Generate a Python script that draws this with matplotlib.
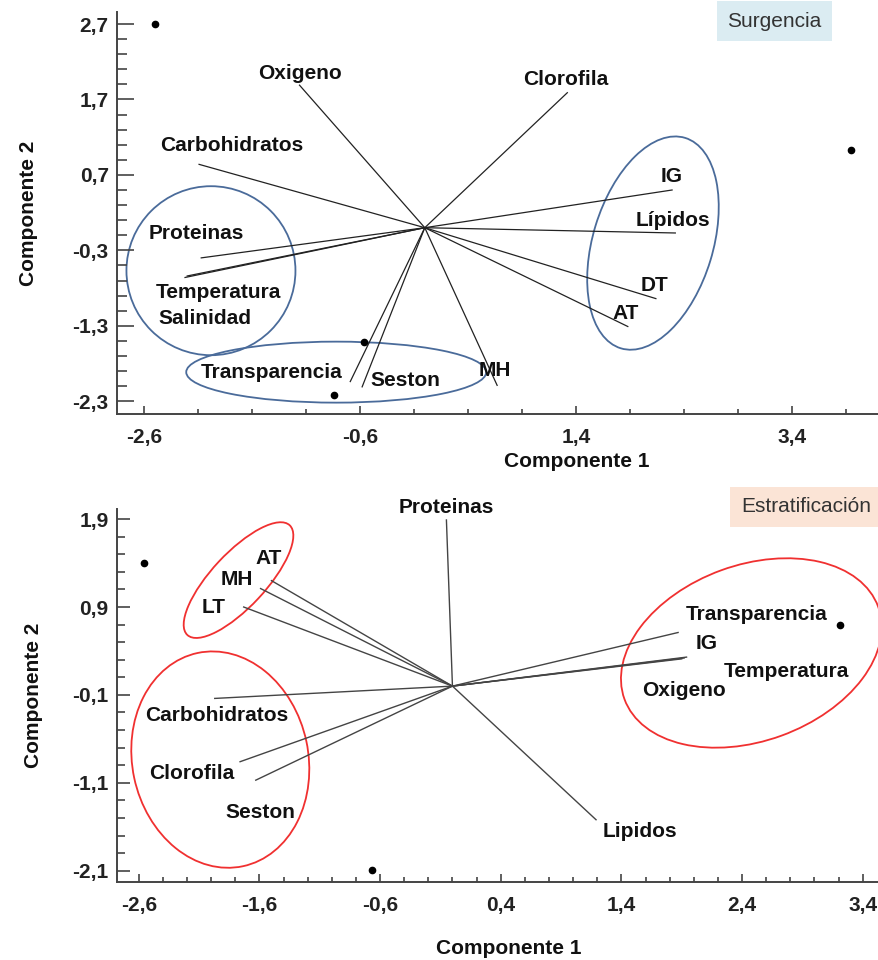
import numpy as np
import matplotlib
matplotlib.use("Agg")
import matplotlib.pyplot as plt
from matplotlib.patches import Ellipse
from matplotlib.transforms import ScaledTranslation

plt.rcParams['font.family'] = ['Liberation Sans', 'DejaVu Sans']

# ---- Surgencia (top) ----
top_vars = ["Oxigeno", "Clorofila", "Carbohidratos", "Proteinas", "Temperatura", "Salinidad",
            "Transparencia", "Seston", "MH", "IG", "Lípidos", "DT", "AT"]
top_vx = [-1.16, 1.32, -2.09, -2.07, -2.22, -2.20, -0.69, -0.58, 0.67, 2.29, 2.32, 2.14, 1.88]
top_vy = [1.89, 1.79, 0.84, -0.40, -0.66, -0.64, -2.04, -2.11, -2.09, 0.50, -0.07, -0.94, -1.31]
top_lx = [-1.16, 1.31, -1.79, -2.12, -1.91, -2.04, -1.42, -0.18, 0.65, 2.29, 2.30, 2.13, 1.86]
top_ly = [2.04, 1.97, 1.09, -0.08, -0.86, -1.21, -1.92, -2.02, -1.89, 0.68, 0.10, -0.76, -1.14]
top_px = [-2.50, 3.95, -0.56, -0.84]
top_py = [2.70, 1.03, -1.52, -2.22]
top_xticks = [-2.6, -0.6, 1.4, 3.4]
top_yticks = [2.7, 1.7, 0.7, -0.3, -1.3, -2.3]

# ---- Estratificacion (bottom) ----
bot_vars = ["Proteinas", "AT", "MH", "LT", "Carbohidratos", "Clorofila", "Seston",
            "Transparencia", "IG", "Temperatura", "Oxigeno", "Lipidos"]
bot_vx = [-0.05, -1.50, -1.59, -1.73, -1.97, -1.76, -1.63, 1.87, 1.94, 1.92, 1.90, 1.19]
bot_vy = [1.89, 1.20, 1.11, 0.90, -0.14, -0.86, -1.07, 0.61, 0.33, 0.32, 0.31, -1.52]
bot_lx = [-0.05, -1.52, -1.79, -1.98, -1.95, -2.16, -1.59, 2.52, 2.11, 2.77, 1.92, 1.55]
bot_ly = [2.03, 1.45, 1.21, 0.90, -0.33, -0.99, -1.44, 0.81, 0.48, 0.17, -0.05, -1.65]
bot_px = [-2.56, -0.67, 3.21]
bot_py = [1.40, -2.09, 0.69]
bot_xticks = [-2.6, -1.6, -0.6, 0.4, 1.4, 2.4, 3.4]
bot_yticks = [1.9, 0.9, -0.1, -1.1, -2.1]

DPI = 100
fig = plt.figure(figsize=(8.79, 9.6), dpi=DPI)


def ring(ax, cx, cy, w, h, ang, color):
    # ellipse sized in pixels, centred on a data point
    tr = fig.dpi_scale_trans + ScaledTranslation(cx, cy, ax.transData)
    ax.add_patch(Ellipse((0, 0), w / DPI, h / DPI, angle=ang, transform=tr,
                         fill=False, ec=color, lw=1.3, clip_on=False))


def style_axes(ax, xt, yt, xminor, yminor, ylen):
    for s in ['top', 'right']:
        ax.spines[s].set_visible(False)
    for s in ['left', 'bottom']:
        ax.spines[s].set_color('#444444')
        ax.spines[s].set_linewidth(1.4)
    ax.set_xticks(xt)
    ax.set_xticklabels([f"{t:.1f}".replace('.', ',') for t in xt])
    ax.set_yticks(yt)
    ax.set_yticklabels([f"{t:.1f}".replace('.', ',') for t in yt])
    ax.set_xticks(xminor, minor=True)
    ax.set_yticks(yminor, minor=True)
    ax.tick_params(axis='x', which='major', direction='in', length=6, width=1.2, color='#444444',
                   labelsize=15, pad=10)
    ax.tick_params(axis='x', which='minor', direction='in', length=3.6, width=1.2, color='#444444')
    ax.tick_params(axis='y', which='major', direction='in', length=ylen, width=1.2, color='#444444',
                   labelsize=15, pad=6)
    ax.tick_params(axis='y', which='minor', direction='in', length=ylen * 0.58, width=1.2,
                   color='#444444')
    for lab in ax.get_xticklabels() + ax.get_yticklabels():
        lab.set_fontweight('bold')
        lab.set_color('#222222')


# ---------- top panel ----------
ax1 = fig.add_axes([0.1331, 0.56875, 0.8669, 0.41875])
ax1.set_xlim(-2.85, 4.206)
ax1.set_ylim(-2.47, 2.86)
style_axes(ax1, top_xticks, top_yticks, np.arange(-2.6, 4.0, 0.5), np.arange(-2.3, 2.8, 0.2), 12)

for vx, vy in zip(top_vx, top_vy):
    ax1.plot([0, vx], [0, vy], color='#222222', lw=0.9)
for name, lx, ly in zip(top_vars, top_lx, top_ly):
    ax1.text(lx, ly, name, ha='center', va='center', fontsize=15, fontweight='bold', color='#111111')
ax1.plot(top_px, top_py, 'o', color='black', ms=4.5, clip_on=False)

ring(ax1, -1.98, -0.57, 169, 169, 0, '#4a6b9a')
ring(ax1, -0.82, -1.915, 300, 61, 0, '#4a6b9a')
ring(ax1, 2.113, -0.204, 220, 120, 73, '#4a6b9a')

ax1.text(0.863, 0.9766, "Surgencia", transform=ax1.transAxes, ha='center', va='center',
         fontsize=15, color='#333333',
         bbox=dict(boxstyle='square,pad=0.5', fc='#dbecf2', ec='none'))
ax1.text(0.603, -0.118, "Componente 1", transform=ax1.transAxes, ha='center', va='center',
         fontsize=15, fontweight='bold', color='#111111')
ax1.text(-0.116, 0.5, "Componente 2", transform=ax1.transAxes, ha='center', va='center',
         rotation=90, fontsize=15, fontweight='bold', color='#111111')

# ---------- bottom panel ----------
ax2 = fig.add_axes([0.1331, 0.08156, 0.8669, 0.38824])
ax2.set_xlim(-2.78, 3.535)
ax2.set_ylim(-2.225, 2.015)
style_axes(ax2, bot_xticks, bot_yticks, np.arange(-2.6, 3.5, 0.2), np.arange(-2.1, 2.0, 0.2), 9.4)

for vx, vy in zip(bot_vx, bot_vy):
    ax2.plot([0, vx], [0, vy], color='#444444', lw=1.0)
for name, lx, ly in zip(bot_vars, bot_lx, bot_ly):
    ax2.text(lx, ly, name, ha='center', va='center', fontsize=15, fontweight='bold',
             color='#111111', clip_on=False)
ax2.plot(bot_px, bot_py, 'o', color='black', ms=4.5, clip_on=False)

ring(ax2, -1.773, 1.206, 150, 54, 47, '#f03030')
ring(ax2, -1.924, -0.836, 218, 176, 102, '#f03030')
ring(ax2, 2.477, 0.377, 270, 176, 20, '#f03030')

ax2.text(0.904, 1.006, "Estratificación", transform=ax2.transAxes, ha='center', va='center',
         fontsize=15, color='#333333',
         bbox=dict(boxstyle='square,pad=0.5', fc='#fbe4d6', ec='none'))
ax2.text(0.514, -0.178, "Componente 1", transform=ax2.transAxes, ha='center', va='center',
         fontsize=15, fontweight='bold', color='#111111')
ax2.text(-0.109, 0.5, "Componente 2", transform=ax2.transAxes, ha='center', va='center',
         rotation=90, fontsize=15, fontweight='bold', color='#111111')

fig.savefig("out.png", dpi=DPI)
